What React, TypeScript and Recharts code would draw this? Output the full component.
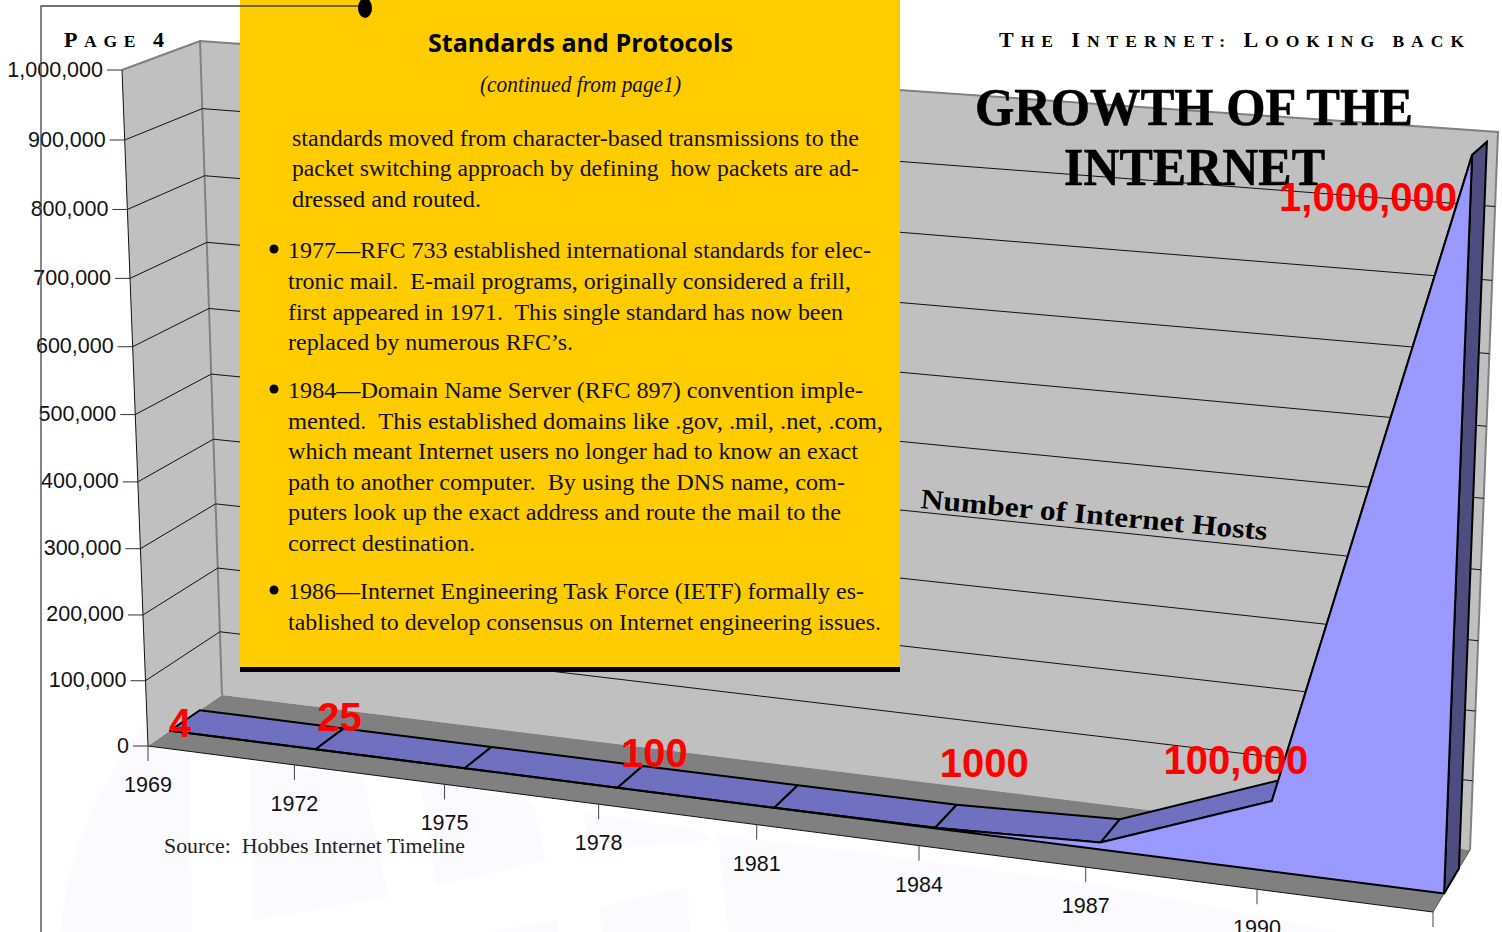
import React from "react";
import { AreaChart, Area, XAxis, YAxis } from "recharts";

// Values
const years = ["1969", "1972", "1975", "1978", "1981", "1984", "1987", "1990", "1993"];
const hosts = [4, 25, 50, 100, 200, 1000, 10000, 100000, 1000000];
const hostLabels = ["4", "25", "", "100", "", "1000", "", "100,000", "1,000,000"];
const hostTicks = [0, 100000, 200000, 300000, 400000, 500000, 600000, 700000, 800000, 900000, 1000000];

const chartData = years.map((year, i) => ({ year, hosts: hosts[i] }));

const W = 1502;
const H = 932;
const AXIS_ROOM = 30;

type Pt = [number, number];

// Corners of the 3D box on the page: bottom-left, bottom-right, top-right, top-left
const frontQuad: Pt[] = [[148, 746], [1433, 912], [1461, 165], [122, 70]];
const backQuad: Pt[] = [[222, 695], [1470, 850], [1498, 132], [200, 41]];
const AREA_FRONT = 0.3;
const AREA_BACK = 0.7;

// Projects plot fractions (u along years, v up the value axis, w into the page)
const project = (u: number, v: number, w: number): Pt => {
  const q = frontQuad.map((p, i) => [
    p[0] + (backQuad[i][0] - p[0]) * w,
    p[1] + (backQuad[i][1] - p[1]) * w,
  ]);
  const [[x0, y0], [x1, y1], [x2, y2], [x3, y3]] = q;
  const dx1 = x1 - x2;
  const dx2 = x3 - x2;
  const sx = x0 - x1 + x2 - x3;
  const dy1 = y1 - y2;
  const dy2 = y3 - y2;
  const sy = y0 - y1 + y2 - y3;
  const den = dx1 * dy2 - dx2 * dy1;
  const g = (sx * dy2 - dx2 * sy) / den;
  const h = (dx1 * sy - sx * dy1) / den;
  const d = g * u + h * v + 1;
  return [
    ((x1 - x0 + g * x1) * u + (x3 - x0 + h * x3) * v + x0) / d,
    ((y1 - y0 + g * y1) * u + (y3 - y0 + h * y3) * v + y0) / d,
  ];
};

const poly = (pts: Pt[]) => pts.map((p) => p.join(",")).join(" ");

const AXIS_TEXT = { fontFamily: "Liberation Sans", fontSize: 21.5, fill: "#111" };
const SERIF = "Liberation Serif";

// Where each red label sits relative to its front vertex
const labelNudge: Pt[] = [[10, 6], [24, -18], [0, 0], [37, -21], [0, 0], [49, -51], [0, 0], [-36, -27], [-104, 56]];

const YTick = (props: any) => {
  const v = (H - props.y) / H;
  const a = project(0, v, 0);
  const b = project(0, v, 1);
  const c = project(1, v, 1);
  const inner = v > 0.001 && v < 0.999;
  return (
    <g>
      <line x1={a[0] - 15} y1={a[1]} x2={a[0]} y2={a[1]} stroke="#333" />
      {inner && <polyline points={poly([a, b, c])} fill="none" stroke="#111" strokeWidth={1} />}
      <text {...AXIS_TEXT} x={a[0] - 19} y={a[1] + 6.5} textAnchor="end">
        {props.payload.value.toLocaleString("en-US")}
      </text>
    </g>
  );
};

const XTick = (props: any) => {
  const a = project(props.x / W, 0, 0);
  return (
    <g>
      <line x1={a[0]} y1={a[1]} x2={a[0]} y2={a[1] + 15} stroke="#444" />
      <text {...AXIS_TEXT} x={a[0]} y={a[1] + 46} textAnchor="middle">
        {props.payload.value}
      </text>
    </g>
  );
};

// Draws the whole 3D ribbon from the points recharts scaled
const Ribbon = (props: any) => {
  if (props.index !== 0 || !props.points) return <g key={props.index} />;
  const pts = props.points.map((p: any) => [p.x / W, (H - p.y) / H]);
  const front: Pt[] = pts.map((p: number[]) => project(p[0], p[1], AREA_FRONT));
  const back: Pt[] = pts.map((p: number[]) => project(p[0], p[1], AREA_BACK));
  const n = pts.length - 1;
  const baseFront = project(1, 0, AREA_FRONT);
  const baseBack = project(1, 0, AREA_BACK);
  const startFront = project(0, 0, AREA_FRONT);
  return (
    <g key="ribbon">
      {front.slice(0, n).map((f, i) => (
        <polygon
          key={i}
          points={poly([f, front[i + 1], back[i + 1], back[i]])}
          fill="#7070c0"
          stroke="#000"
          strokeWidth={2}
          strokeLinejoin="round"
        />
      ))}
      <polygon
        points={poly([front[n], back[n], baseBack, baseFront])}
        fill="#4d4d80"
        stroke="#000"
        strokeWidth={2}
      />
      <polygon
        points={poly([startFront, ...front, baseFront])}
        fill="#9999ff"
        stroke="#000"
        strokeWidth={2}
        strokeLinejoin="round"
      />
      {hostLabels.map((label, i) =>
        label ? (
          <text
            key={label}
            x={front[i][0] + labelNudge[i][0]}
            y={front[i][1] + labelNudge[i][1]}
            textAnchor="middle"
            fontFamily="Liberation Sans"
            fontWeight="bold"
            fontSize={40}
            fill="#ff0000"
          >
            {label}
          </text>
        ) : null
      )}
    </g>
  );
};

const Walls = () => {
  const fl: Pt = project(0, 0, 0);
  const bl: Pt = project(0, 0, 1);
  const br: Pt = project(1, 0, 1);
  const fr: Pt = project(1, 0, 0);
  const ftl: Pt = project(0, 1, 0);
  const btl: Pt = project(0, 1, 1);
  const btr: Pt = project(1, 1, 1);
  return (
    <>
      <polygon points={poly([fl, bl, btl, ftl])} fill="#c0c0c0" />
      <polygon points={poly([bl, br, btr, btl])} fill="#c0c0c0" />
      <polygon points={poly([fl, bl, br, fr])} fill="#808080" />
      <polyline points={poly([ftl, btl, btr, br])} fill="none" stroke="#808080" strokeWidth={2} />
      <line x1={btl[0]} y1={btl[1]} x2={bl[0]} y2={bl[1]} stroke="#808080" strokeWidth={2} />
      <line x1={ftl[0]} y1={ftl[1]} x2={fl[0]} y2={fl[1]} stroke="#111" strokeWidth={1} />
      <line x1={fl[0]} y1={fl[1]} x2={fr[0]} y2={fr[1]} stroke="#111" strokeWidth={1} />
      <line x1={fr[0]} y1={fr[1]} x2={br[0]} y2={br[1]} stroke="#555" strokeWidth={1} />
    </>
  );
};

// Faint globe printed behind the page
const Watermark = () => (
  <g fill="#fafaff">
    <path d="M61,932 C65,860 95,790 147,720 L190,755 L191,932 Z" />
    <polygon points="250,763 363,777 388,897 253,920" />
    <polygon points="420,780 533,803 546,860 437,885" />
    <polygon points="583,813 700,830 710,840 592,850" />
    <polygon points="600,907 688,887 690,932 602,932" />
    <polygon points="487,932 557,920 558,932" />
    <polygon points="718,835 880,855 1100,885 1340,932 728,932" />
  </g>
);

const panelLines: [string, number, number, number][] = [
  ["standards moved from character-based transmissions to the", 292, 146, 567],
  ["packet switching approach by defining  how packets are ad-", 292, 176, 567],
  ["dressed and routed.", 292, 207, 189],
  ["1977—RFC 733 established international standards for elec-", 288, 258, 583],
  ["tronic mail.  E-mail programs, originally considered a frill,", 288, 289, 563],
  ["first appeared in 1971.  This single standard has now been", 288, 320, 555],
  ["replaced by numerous RFC’s.", 288, 350, 285],
  ["1984—Domain Name Server (RFC 897) convention imple-", 288, 398, 575],
  ["mented.  This established domains like .gov, .mil, .net, .com,", 288, 429, 595],
  ["which meant Internet users no longer had to know an exact", 288, 459, 570],
  ["path to another computer.  By using the DNS name, com-", 288, 490, 557],
  ["puters look up the exact address and route the mail to the", 288, 520, 553],
  ["correct destination.", 288, 551, 187],
  ["1986—Internet Engineering Task Force (IETF) formally es-", 288, 599, 576],
  ["tablished to develop consensus on Internet engineering issues.", 288, 630, 593],
];
const bulletRows = [249, 389, 590];

const layer: React.CSSProperties = { position: "absolute", left: 0, top: 0 };
const pre: React.CSSProperties = { whiteSpace: "pre" };

// Capitals are larger, the rest is set in smaller capitals
const Caps = ({ parts }: { parts: [string, boolean][] }) => (
  <>
    {parts.map(([part, big], i) => (
      <tspan key={i} fontSize={big ? 22 : 17.5}>
        {part}
      </tspan>
    ))}
  </>
);

export default function App() {
  return (
    <div style={{ ...layer, width: W, height: H, overflow: "hidden", background: "#fff" }}>
      <svg width={W} height={H} style={layer}>
        <Watermark />
        <Walls />
      </svg>

      <div style={layer}>
        <AreaChart
          width={W}
          height={H}
          data={chartData}
          margin={{ top: 0, right: 0, bottom: -AXIS_ROOM, left: -AXIS_ROOM }}
        >
          <XAxis dataKey="year" height={AXIS_ROOM} interval={0} axisLine={false} tickLine={false} tick={XTick} />
          <YAxis
            width={AXIS_ROOM}
            domain={[0, 1000000]}
            ticks={hostTicks}
            interval={0}
            axisLine={false}
            tickLine={false}
            tick={YTick}
          />
          <Area dataKey="hosts" stroke="none" fill="none" dot={false} activeDot={false} isAnimationActive={false} />
        </AreaChart>
      </div>

      <svg width={W} height={H} style={layer}>
        <text x={64} y={47} textLength={100} fontFamily={SERIF} fontWeight="bold" style={pre}>
          <Caps parts={[["P", true], ["AGE ", false], ["4", true]]} />
        </text>
        <text x={999} y={47} textLength={465} fontFamily={SERIF} fontWeight="bold" style={pre}>
          <Caps parts={[["T", true], ["HE ", false], ["I", true], ["NTERNET: ", false], ["L", true], ["OOKING BACK", false]]} />
        </text>
        <text x={975} y={125} textLength={438} lengthAdjust="spacingAndGlyphs" fontFamily={SERIF} fontWeight="bold" fontSize={53} stroke="#000" strokeWidth={0.6}>
          GROWTH OF THE
        </text>
        <text x={1064} y={185} textLength={261} lengthAdjust="spacingAndGlyphs" fontFamily={SERIF} fontWeight="bold" fontSize={53} stroke="#000" strokeWidth={0.6}>
          INTERNET
        </text>
        <text
          transform="translate(920 508) rotate(5.3)"
          textLength={348}
          lengthAdjust="spacingAndGlyphs"
          fontFamily={SERIF}
          fontWeight="bold"
          fontSize={28}
        >
          Number of Internet Hosts
        </text>
        <text x={164} y={853} textLength={301} lengthAdjust="spacingAndGlyphs" fontFamily={SERIF} fontSize={21} fill="#222" style={pre}>
          Source:  Hobbes Internet Timeline
        </text>
      </svg>

      <div style={layer}>
        <AreaChart
          width={W}
          height={H}
          data={chartData}
          margin={{ top: 0, right: 0, bottom: 0, left: 0 }}
        >
          <XAxis dataKey="year" hide />
          <YAxis hide domain={[0, 1000000]} />
          <Area dataKey="hosts" stroke="none" fill="none" dot={Ribbon} activeDot={false} isAnimationActive={false} />
        </AreaChart>
      </div>

      <svg width={W} height={H} style={layer}>
        <rect x={240} y={0} width={660} height={667} fill="#ffcc00" />
        <rect x={240} y={667} width={660} height={5} fill="#000" />
        <polyline points="41,932 41,6 360,6" fill="none" stroke="#444" strokeWidth={1.3} />
        <ellipse cx={365} cy={8} rx={7} ry={10} fill="#000" />
        <text x={428} y={52} textLength={305} lengthAdjust="spacingAndGlyphs" fontFamily="Open Sans" fontWeight="bold" fontSize={25}>
          Standards and Protocols
        </text>
        <text x={480} y={92} textLength={201} lengthAdjust="spacingAndGlyphs" fontFamily={SERIF} fontStyle="italic" fontSize={24} fill="#111">
          (continued from page1)
        </text>
        {panelLines.map(([line, x, y, width]) => (
          <text key={line} x={x} y={y} textLength={width} lengthAdjust="spacingAndGlyphs" fontFamily={SERIF} fontSize={24} fill="#111" style={pre}>
            {line}
          </text>
        ))}
        {bulletRows.map((y) => (
          <circle key={y} cx={274} cy={y} r={4.5} fill="#000" />
        ))}
      </svg>
    </div>
  );
}
